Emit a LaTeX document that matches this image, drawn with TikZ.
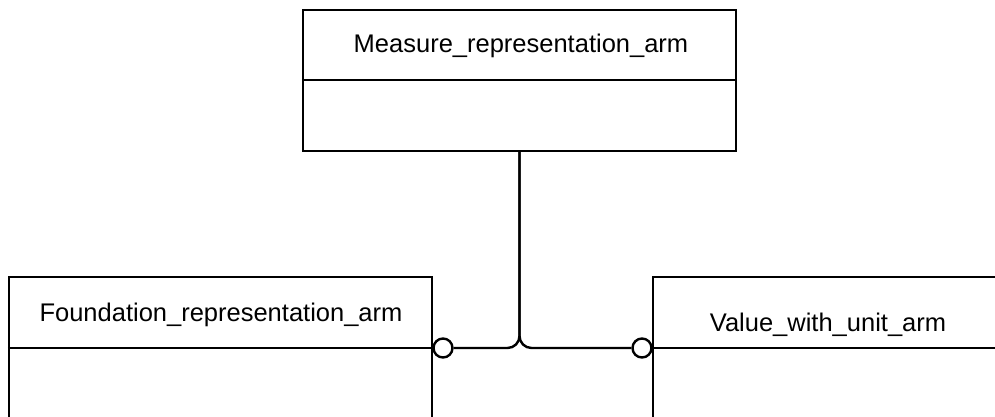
\documentclass[tikz,border=0pt]{standalone}
\usepackage{fontspec}
\setmainfont{Liberation Sans}
\begin{document}
\begin{tikzpicture}[x=1pt,y=-1pt,line width=2.4pt,
  box/.style={draw, rectangle, inner sep=0pt},
  lbl/.style={font=\fontsize{25.5}{30}\selectfont, inner sep=0pt, anchor=base},
  ring/.style={draw, circle, fill=white, minimum size=19pt, inner sep=0pt},
  link/.style={rounded corners=12pt}]
\useasboundingbox (0,0) rectangle (995,416);
\clip (0,0) rectangle (995,416);
% boxes
\node[box, minimum width=433pt, minimum height=141pt] (mra) at (519.5,80.5) {};
\node[box, minimum width=423pt, minimum height=163pt] (fra) at (220.5,358.5) {};
\node[box, minimum width=367pt, minimum height=163pt] (vwu) at (836.5,358.5) {};
% dividers
\draw (mra.west |- 0,80) -- (mra.east |- 0,80);
\draw (fra.west |- 0,348) -- (fra.east |- 0,348);
\draw (vwu.west |- 0,348) -- (vwu.east |- 0,348);
% labels
\node[lbl] (t1) at (521,52) {Measure\_representation\_arm};
\node[lbl] (t2) at (221,321) {Foundation\_representation\_arm};
\node[lbl] (t3) at (828,331) {Value\_with\_unit\_arm};
% circles
\node[ring] (lc) at (443,348) {};
\node[ring] (rc) at (642,348) {};
% connectors
\draw[link] (mra.south) |- (lc.east);
\draw[link] (mra.south) |- (rc.west);
\end{tikzpicture}
\end{document}
